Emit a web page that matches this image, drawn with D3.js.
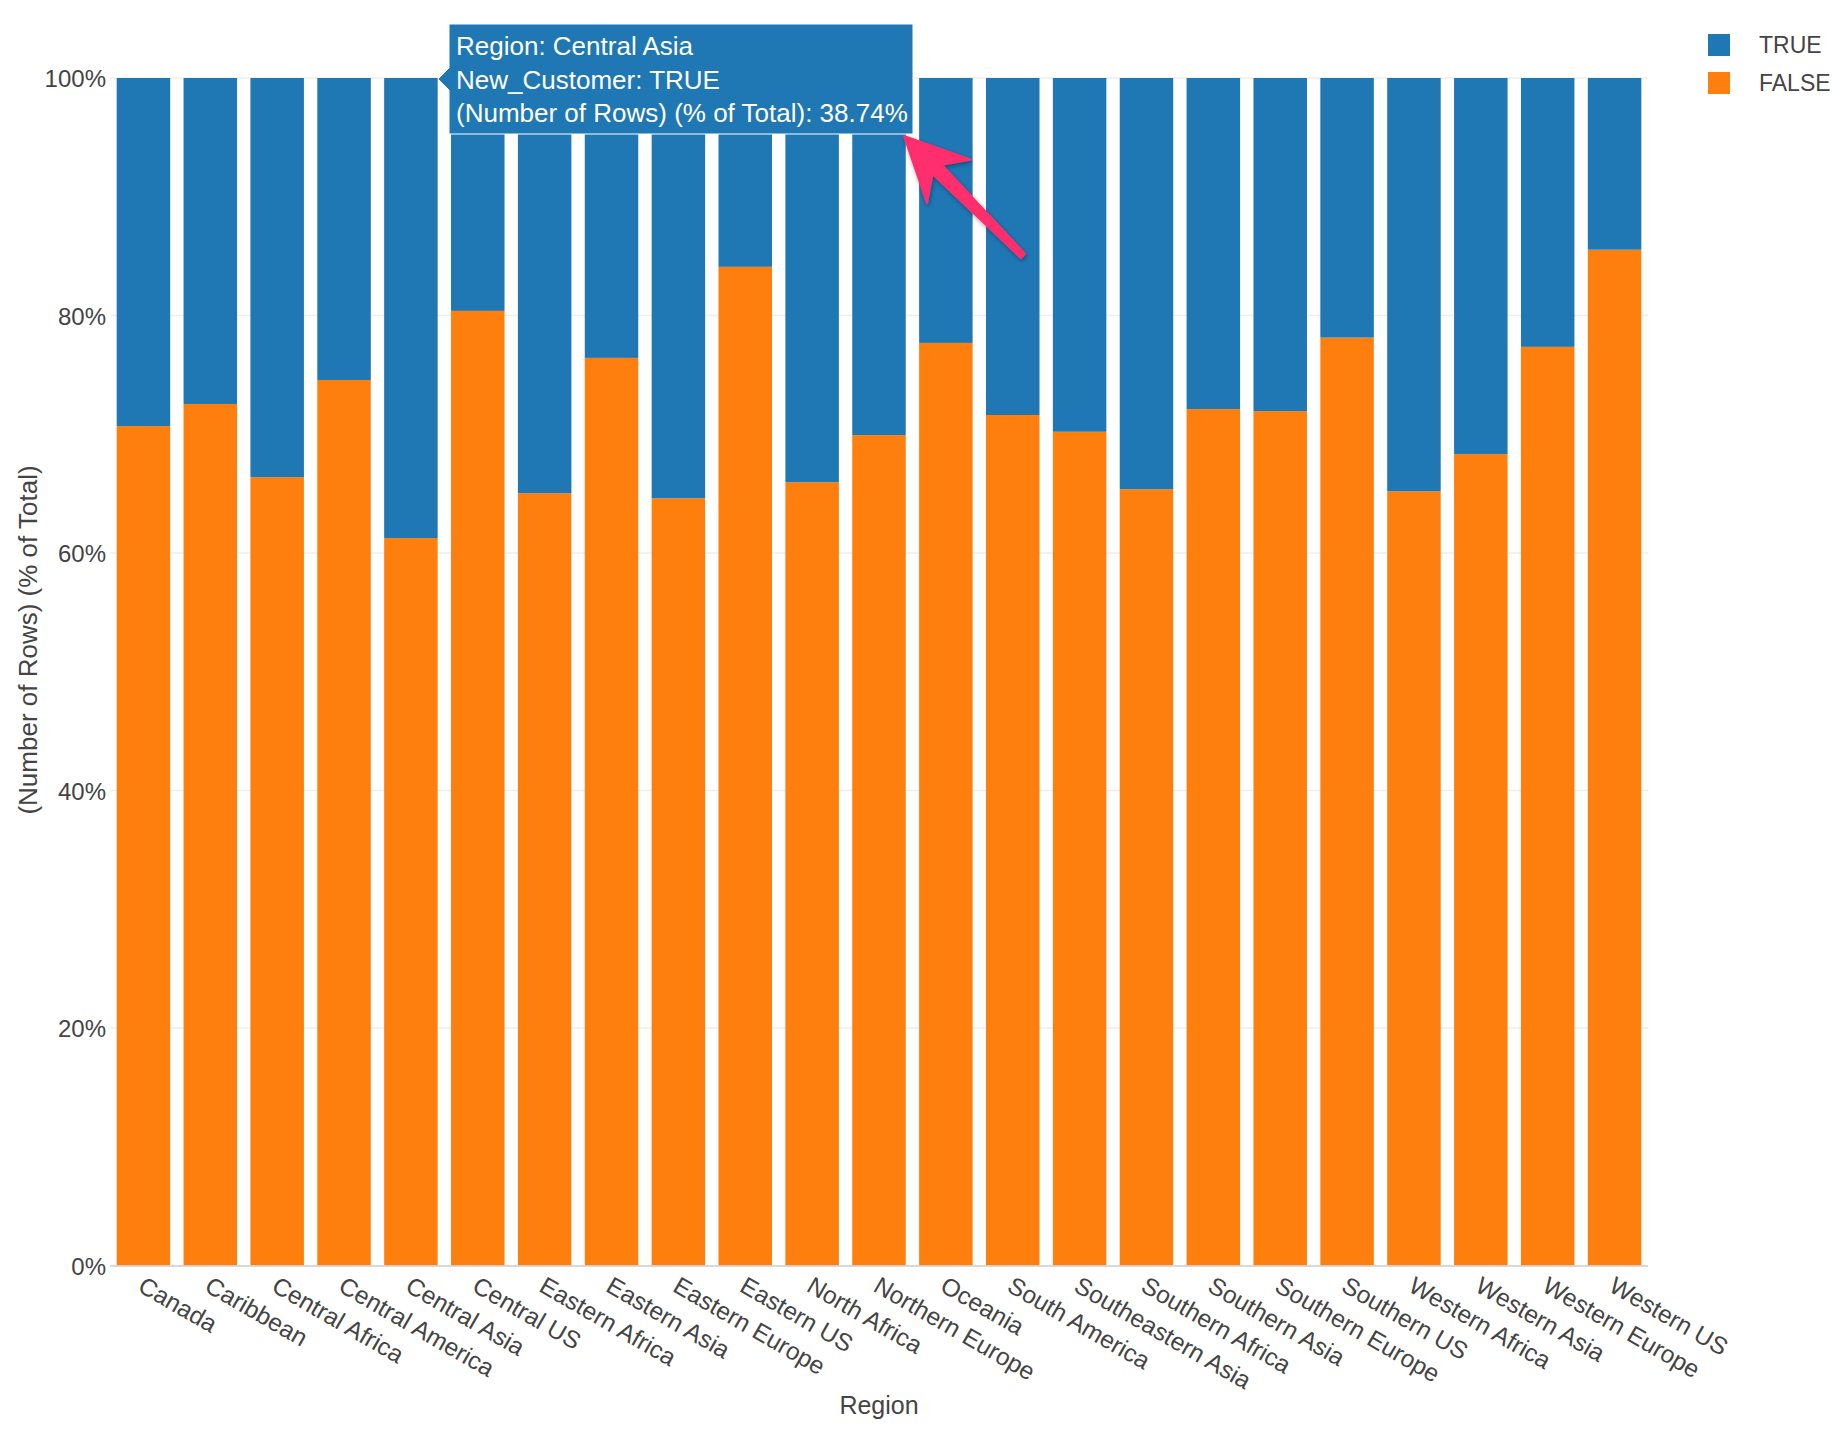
<!DOCTYPE html>
<html>
<head>
<meta charset="utf-8">
<script src="https://cdn.jsdelivr.net/npm/d3@7"></script>
<style>
  html, body { margin: 0; padding: 0; background: #ffffff; }
  svg { display: block; font-family: "Liberation Sans", Arial, Helvetica, sans-serif; }
</style>
</head>
<body>
<svg id="chart" width="1848" height="1432"></svg>
<script>
// ---- data ----
const regions = ["Canada", "Caribbean", "Central Africa", "Central America", "Central Asia",
  "Central US", "Eastern Africa", "Eastern Asia", "Eastern Europe", "Eastern US",
  "North Africa", "Northern Europe", "Oceania", "South America", "Southeastern Asia",
  "Southern Africa", "Southern Asia", "Southern Europe", "Southern US", "Western Africa",
  "Western Asia", "Western Europe", "Western US"];
const falseShare = [70.69, 72.55, 66.39, 74.57, 61.26, 80.39, 65.04, 76.43, 64.61, 84.10,
  65.96, 69.93, 77.69, 71.62, 70.21, 65.37, 72.12, 71.95, 78.14, 65.20, 68.33, 77.36, 85.54];
const trueShare = [29.31, 27.45, 33.61, 25.43, 38.74, 19.61, 34.96, 23.57, 35.39, 15.90,
  34.04, 30.07, 22.31, 28.38, 29.79, 34.63, 27.88, 28.05, 21.86, 34.80, 31.67, 22.64, 14.46];
const seriesKeys = ["FALSE", "TRUE"];          // stacking order (bottom to top)
const legendKeys = ["TRUE", "FALSE"];
const yTicks = [0, 20, 40, 60, 80, 100];
const colors = { "TRUE": "#1f77b4", "FALSE": "#ff7f0e" };
const hoverRegion = "Central Asia";
const hoverSeries = "TRUE";

// ---- layout ----
const svg = d3.select("#chart");
const L = 110, R = 1648, T = 78, B = 1265.5;
const textColor = "#444444";

const rows = regions.map((r, i) => ({ region: r, "FALSE": falseShare[i], "TRUE": trueShare[i] }));
const stacked = d3.stack().keys(seriesKeys)(rows);

const x = d3.scaleBand().domain(regions).range([L, R]).paddingInner(0.2).paddingOuter(0.1);
const y = d3.scaleLinear().domain([0, 100]).range([B, T]);

// gridlines
svg.append("g")
  .selectAll("line").data(yTicks.filter(d => d > 0)).join("line")
  .attr("x1", L).attr("x2", R)
  .attr("y1", d => y(d)).attr("y2", d => y(d))
  .attr("stroke", "#eeeeee").attr("stroke-width", 1.5);

// bars
svg.append("g").selectAll("g").data(stacked).join("g")
  .attr("fill", d => colors[d.key])
  .selectAll("rect").data(d => d).join("rect")
  .attr("x", d => x(d.data.region))
  .attr("width", x.bandwidth())
  .attr("y", d => y(d[1]))
  .attr("height", d => y(d[0]) - y(d[1]));

// x axis line
svg.append("line").attr("x1", L).attr("x2", R).attr("y1", B + 0.5).attr("y2", B + 0.5)
  .attr("stroke", "#cccccc").attr("stroke-width", 1.5);

// y axis labels
const yAxis = svg.append("g").attr("transform", `translate(${L},0)`)
  .call(d3.axisLeft(y).tickValues(yTicks).tickFormat(d => d + "%").tickSize(0).tickPadding(4));
yAxis.select(".domain").remove();
yAxis.selectAll("text").attr("font-size", 24).attr("fill", textColor)
  .attr("font-family", "\"Liberation Sans\", Arial, Helvetica, sans-serif")
  .attr("dy", "0.36em");

// x axis labels
const xAxis = svg.append("g").attr("transform", `translate(0,${B})`)
  .call(d3.axisBottom(x).tickSize(0));
xAxis.select(".domain").remove();
xAxis.selectAll("text")
  .attr("font-size", 24.5).attr("fill", textColor)
  .attr("font-family", "\"Liberation Sans\", Arial, Helvetica, sans-serif")
  .attr("text-anchor", "start")
  .attr("x", 0).attr("y", 0).attr("dy", null)
  .attr("transform", "translate(-7,25) rotate(30)");

// axis titles
svg.append("text").attr("x", (L + R) / 2).attr("y", 1414)
  .attr("text-anchor", "middle").attr("font-size", 25).attr("fill", textColor)
  .text("Region");
svg.append("text").attr("transform", "translate(37,640) rotate(-90)")
  .attr("text-anchor", "middle").attr("font-size", 26).attr("fill", textColor)
  .text("(Number of Rows) (% of Total)");

// legend
const lg = svg.append("g").selectAll("g").data(legendKeys).join("g")
  .attr("transform", (d, i) => `translate(1708,${34 + i * 38})`);
lg.append("rect").attr("width", 22).attr("height", 22).attr("fill", d => colors[d]);
lg.append("text").attr("x", 51).attr("y", 19).attr("font-size", 23).attr("fill", textColor)
  .text(d => d);

// hover tooltip
const hi = regions.indexOf(hoverRegion);
const hoverVal = hoverSeries === "TRUE" ? trueShare[hi] : falseShare[hi];
const tip = svg.append("g");
const bx = 449, by = 24, bw = 464, bh = 110, ay = y(100) + 1;
tip.append("path")
  .attr("d", `M${bx},${by} H${bx + bw} V${by + bh} H${bx} V${ay + 11} L${bx - 11},${ay} L${bx},${ay - 11} Z`)
  .attr("fill", colors[hoverSeries]).attr("stroke", "#ffffff").attr("stroke-width", 1);
const lines = [
  `Region: ${hoverRegion}`,
  `New_Customer: ${hoverSeries}`,
  `(Number of Rows) (% of Total): ${hoverVal.toFixed(2)}%`
];
tip.selectAll("text").data(lines).join("text")
  .attr("x", 456).attr("y", (d, i) => 55 + i * 33.5)
  .attr("font-size", 26).attr("fill", "#ffffff").text(d => d);

// pink annotation arrow
const defs = svg.append("defs");
const f = defs.append("filter").attr("id", "sh").attr("x", "-20%").attr("y", "-20%").attr("width", "140%").attr("height", "140%");
f.append("feDropShadow").attr("dx", 1).attr("dy", 2).attr("stdDeviation", 2).attr("flood-color", "#000").attr("flood-opacity", 0.35);
const tipPt = [904, 136], tail = [1023, 256];
const dx = tipPt[0] - tail[0], dy = tipPt[1] - tail[1];
const len = Math.hypot(dx, dy);
const ux = dx / len, uy = dy / len, px = -uy, py = ux;
const pt = (along, side) => [tipPt[0] - ux * along + px * side, tipPt[1] - uy * along + py * side];
const poly = [pt(0, 0), pt(64, 31), pt(47, 6.5), pt(len, 3), pt(len, -3), pt(47, -6.5), pt(64, -31)];
svg.append("path")
  .attr("d", "M" + poly.map(p => p.join(",")).join("L") + "Z")
  .attr("fill", "#ff2d6c").attr("stroke", "#ff2d6c").attr("stroke-width", 2).attr("stroke-linejoin", "round")
  .attr("filter", "url(#sh)");
</script>
</body>
</html>
